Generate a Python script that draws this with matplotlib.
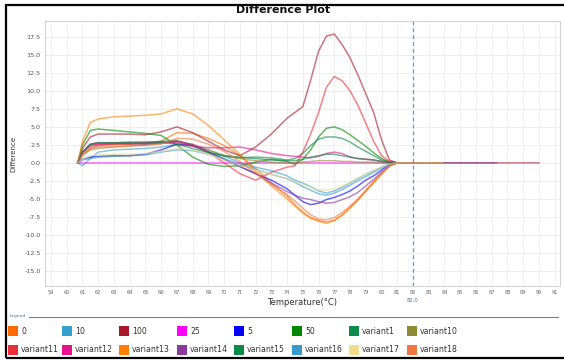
import matplotlib
matplotlib.use("Agg")
import matplotlib.pyplot as plt
from matplotlib.patches import Rectangle
from matplotlib.lines import Line2D

# =========================
# DATA
# =========================

temps = [60.7, 61.0, 61.5, 62, 63, 64, 65, 66, 67, 68, 69, 70, 71, 72, 73,
         74, 74.5, 75, 75.5, 76, 76.5, 77, 77.5, 78, 78.5, 79, 79.5, 80, 80.5, 81]

d_0 = [0, 1.5, 2.3, 2.5, 2.6, 2.6, 2.7, 3.0, 4.2, 4.1, 3.4, 2.4, 1.0, -0.8, -2.8,
       -4.6, -5.8, -6.8, -7.6, -8.0, -8.2, -8.0, -7.2, -6.2, -5.1, -3.9, -2.7, -1.5, -0.4, 0]
d_10 = [0, -0.4, 0.6, 1.5, 1.8, 1.9, 2.0, 2.2, 2.5, 2.4, 1.8, 1.0, 0.0, -0.6, -1.1,
        -1.8, -2.4, -2.8, -3.3, -3.9, -4.2, -3.9, -3.4, -2.8, -2.2, -1.6, -1.1, -0.6, -0.1, 0]
d_100 = [0, 2.0, 3.6, 4.0, 4.0, 4.0, 3.9, 4.3, 5.0, 4.2, 3.0, 1.8, 1.0, 2.2, 4.0,
         6.2, 7.0, 7.8, 11.5, 15.5, 17.6, 17.9, 16.4, 14.6, 12.2, 9.6, 7.0, 3.2, 0.4, 0]
d_25 = [0] * len(temps)
d_5 = [0, 0.5, 0.8, 0.9, 1.0, 1.0, 1.2, 1.8, 2.6, 2.4, 1.5, 0.5, -0.5, -1.5, -2.4,
       -3.6, -4.5, -5.4, -5.8, -5.6, -5.1, -4.8, -4.4, -3.9, -3.2, -2.4, -1.8, -1.0, -0.2, 0]
d_50 = [0, 2.5, 4.5, 4.7, 4.5, 4.3, 4.1, 3.8, 2.5, 0.8, -0.2, -0.5, -0.4, 0.1, 0.5,
        0.2, -0.2, 0.5, 1.8, 3.6, 4.8, 5.0, 4.6, 3.9, 3.1, 2.3, 1.4, 0.6, 0.1, 0]
d_v1 = [0, 1.5, 2.5, 2.7, 2.7, 2.8, 2.8, 3.0, 3.1, 2.4, 1.5, 0.9, 0.7, 0.8, 0.7,
        0.4, 0.6, 1.3, 2.4, 3.3, 3.6, 3.6, 3.4, 2.9, 2.2, 1.6, 1.0, 0.4, 0.1, 0]
d_v10 = [0, 1.0, 1.8, 2.0, 2.2, 2.3, 2.5, 2.7, 3.0, 2.6, 1.8, 1.0, 0.6, 0.3, 0.1,
         0.0, 0.0, 0.1, 0.2, 0.3, 0.3, 0.3, 0.2, 0.2, 0.1, 0.1, 0.1, 0.0, 0.0, 0]
d_v11 = [0, 1.2, 2.0, 2.4, 2.6, 2.6, 2.7, 2.8, 3.0, 2.5, 1.5, 0.0, -1.5, -2.4, -1.3,
         -0.6, -0.4, 1.5, 4.0, 7.0, 10.5, 12.0, 11.4, 10.0, 8.0, 5.5, 3.0, 1.0, 0.2, 0]
d_v12 = [0, 1.5, 2.4, 2.6, 2.7, 2.7, 2.8, 2.9, 2.8, 2.3, 2.1, 2.1, 2.2, 1.8, 1.3,
         1.0, 0.9, 0.8, 0.7, 0.9, 1.3, 1.5, 1.3, 0.8, 0.6, 0.5, 0.4, 0.2, 0.1, 0]
d_v13 = [0, 3.0, 5.6, 6.1, 6.4, 6.5, 6.6, 6.8, 7.5, 6.8, 5.2, 3.2, 1.2, -1.2, -3.2,
         -5.0, -6.0, -7.0, -7.7, -8.1, -8.4, -8.0, -7.3, -6.3, -5.2, -4.0, -2.8, -1.6, -0.5, 0]
d_v14 = [0, 1.5, 2.6, 2.8, 2.8, 2.7, 2.6, 2.8, 3.0, 2.5, 1.5, 0.5, -0.5, -1.5, -2.8,
         -4.0, -4.5, -4.9, -5.1, -5.4, -5.6, -5.5, -5.1, -4.7, -4.1, -3.2, -2.3, -1.3, -0.4, 0]
d_v15 = [0, 1.5, 2.6, 2.8, 2.8, 2.9, 2.9, 2.8, 2.6, 2.0, 1.4, 1.0, 0.8, 0.6, 0.4,
         0.3, 0.3, 0.5, 0.8, 1.0, 1.2, 1.2, 1.0, 0.8, 0.6, 0.5, 0.4, 0.2, 0.1, 0]
d_v16 = [0, 0.4, 0.6, 0.8, 0.9, 1.0, 1.1, 1.5, 1.8, 1.7, 1.2, 0.6, -0.2, -0.9, -1.6,
         -2.2, -2.7, -3.3, -3.8, -4.3, -4.5, -4.2, -3.7, -3.1, -2.5, -1.9, -1.3, -0.7, -0.2, 0]
d_v17 = [0, 0.5, 1.0, 1.1, 1.2, 1.2, 1.3, 1.6, 2.0, 1.8, 1.2, 0.4, -0.4, -1.0, -1.6,
         -2.2, -2.6, -3.0, -3.4, -3.7, -3.8, -3.6, -3.2, -2.7, -2.1, -1.6, -1.1, -0.6, -0.2, 0]
d_v18 = [0, 1.2, 2.0, 2.2, 2.3, 2.4, 2.4, 2.6, 3.4, 3.3, 2.6, 1.6, 0.2, -1.4, -3.0,
         -4.4, -5.3, -6.3, -7.2, -7.8, -7.9, -7.6, -6.9, -6.0, -5.0, -3.8, -2.6, -1.4, -0.4, 0]

# last temperature of the flat tail after the melt region
tail_end = {"100": 90.0, "variant14": 87.3, "25": 83.0}
tail_default = 83.9

names = ["0", "10", "100", "25", "5", "50", "variant1", "variant10",
         "variant11", "variant12", "variant13", "variant14", "variant15",
         "variant16", "variant17", "variant18"]
series = [d_0, d_10, d_100, d_25, d_5, d_50, d_v1, d_v10,
          d_v11, d_v12, d_v13, d_v14, d_v15, d_v16, d_v17, d_v18]
colors = ["#ff6a00", "#35a0d0", "#a8182a", "#ff00ff", "#0000ff", "#008800",
          "#0e8a4a", "#8c8c30", "#e8303a", "#e8108c", "#ff8000", "#8a3a9a",
          "#0a8a4a", "#3a9ad0", "#f0dc8c", "#f07840"]

yticks = [-15.0, -12.5, -10.0, -7.5, -5.0, -2.5, 0.0, 2.5, 5.0, 7.5, 10.0, 12.5, 15.0, 17.5]
xticks = list(range(59, 92))
marker_temp = 82.0

# =========================
# FIGURE
# =========================

W, H = 564, 360
fig = plt.figure(figsize=(W / 100, H / 100), dpi=100)


def fx(x):
    return x / W


def fy(y):
    return 1 - y / H


ax = fig.add_axes([fx(45), fy(286), fx(560) - fx(45), fy(21) - fy(286)])

for name, vals, col in zip(names, series, colors):
    t = temps + [tail_end.get(name, tail_default)]
    v = vals + [0]
    ax.plot(t, v, color=col, alpha=0.6, lw=1.1)

ax.axvline(marker_temp, color="#6a8ee0", lw=0.9, ls=(0, (3, 2.5)))

ax.set_xlim(58.62, 91.34)
ax.set_ylim(-17.1, 19.7)
ax.set_xticks(xticks)
ax.set_xticklabels([str(x) for x in xticks], fontsize=3.6, color="#666666")
ax.set_yticks(yticks)
ax.set_yticklabels(["%.1f" % y for y in yticks], fontsize=4.6, color="#555555")
ax.tick_params(length=0, pad=3)
ax.grid(True, color="#ececec", lw=0.6)
ax.set_axisbelow(True)
for s in ax.spines.values():
    s.set_color("#d4d4d4")
    s.set_linewidth(0.8)

ax.set_xlabel("Temperature(°C)", fontsize=6, color="#333333", labelpad=2)
ax.set_ylabel("Difference", fontsize=5, color="#333333", labelpad=6)

ax.text(marker_temp, -0.045, "82.0", transform=ax.get_xaxis_transform(),
        ha="center", va="top", fontsize=3.8, color="#4a78d0")

fig.text(fx(283), fy(10), "Difference Plot", ha="center", va="center",
         fontsize=8, fontweight="bold", color="#111111")

# outer frame
fig.add_artist(Rectangle((fx(6), fy(358)), fx(600) - fx(6), fy(5) - fy(358),
                         transform=fig.transFigure, fill=False,
                         edgecolor="black", lw=1.6))

# =========================
# LEGEND
# =========================

fig.text(fx(10), fy(316), "Legend", fontsize=3.2, color="#4a6a9a",
         ha="left", va="center")
fig.add_artist(Line2D([fx(29), fx(558)], [fy(316.5), fy(316.5)],
                      transform=fig.transFigure, color="#6a84a8", lw=0.8))

col_x = [8, 62, 119, 177, 234, 292, 349, 407]
row_y = [331, 350]
for i, (name, col) in enumerate(zip(names, colors)):
    x0 = col_x[i % 8]
    y0 = row_y[i // 8]
    fig.add_artist(Rectangle((fx(x0), fy(y0 + 5)), fx(10), fy(0) - fy(10),
                             transform=fig.transFigure, facecolor=col,
                             edgecolor="none"))
    fig.text(fx(x0 + 13), fy(y0), name, fontsize=5.6, color="#333333",
             ha="left", va="center")

fig.savefig("out.png", dpi=100)
